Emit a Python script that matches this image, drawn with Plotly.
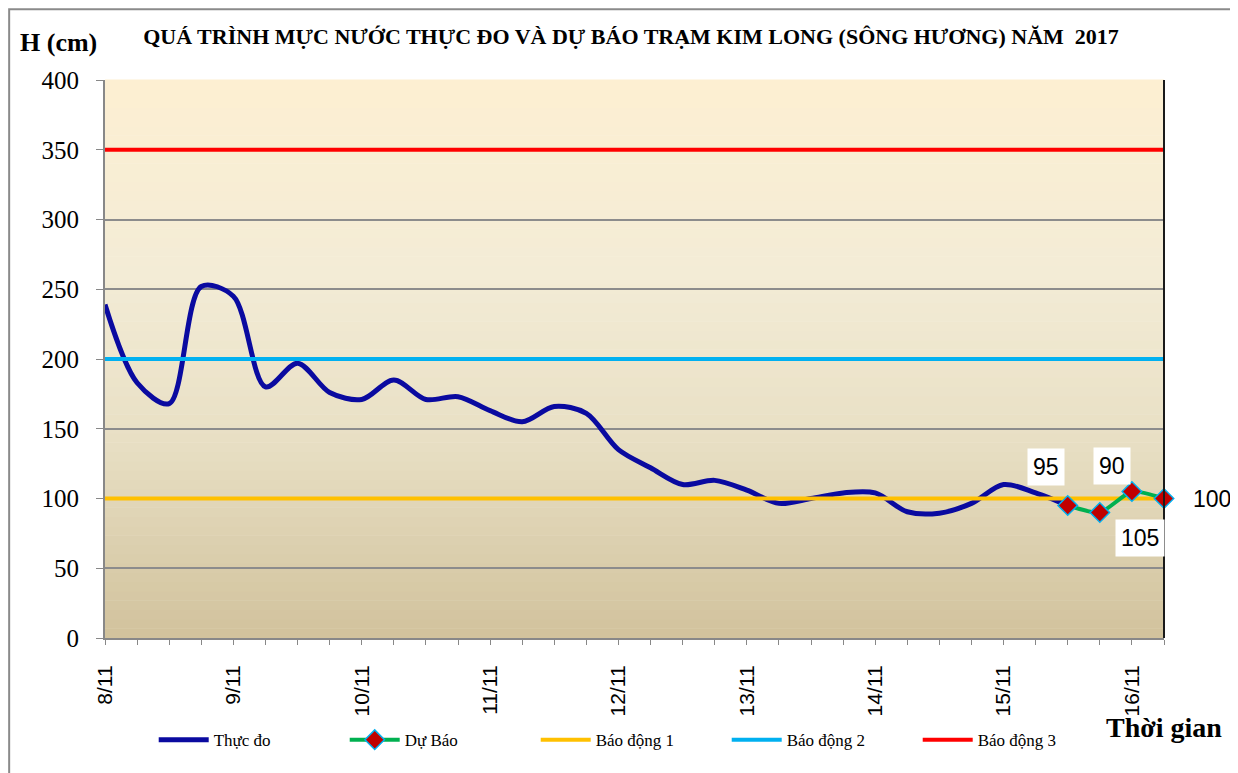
import plotly.graph_objects as go

# ---------------- data ----------------
day_labels = ["8/11", "9/11", "10/11", "11/11", "12/11", "13/11", "14/11", "15/11", "16/11"]
steps_per_day = 4  # observations every 6 hours

observed = [239, 183, 168, 252, 245, 180, 197, 176, 171, 185,
            171, 173, 163, 155, 166, 161, 135, 122, 110, 113,
            106, 96.5, 100, 104, 104, 90.5, 89.5, 96.5, 110, 104, 95]
forecast = [95, 90, 105, 100]
forecast_labels = ["95", "90", "105", "100"]

alarm_levels = [100, 200, 350]
alarm_names = ["Báo động 1", "Báo động 2", "Báo động 3"]
alarm_colors = ["#FFC000", "#00B0F0", "#FF0000"]

title_text = "QUÁ TRÌNH MỰC NƯỚC THỰC ĐO VÀ DỰ BÁO TRẠM KIM LONG (SÔNG HƯƠNG) NĂM  2017"

# ---------------- positions derived from data ----------------
n_total = len(observed) - 1 + len(forecast)
x_obs = list(range(len(observed)))
x_fc = list(range(len(observed) - 1, n_total))
x_end = n_total - 1

tickvals = list(range(n_total))
ticktext = [day_labels[i // steps_per_day] if i % steps_per_day == 0 and i // steps_per_day < len(day_labels) else ""
            for i in tickvals]

serif = "Liberation Serif, 'Times New Roman', serif"
sans = "Liberation Sans, Arial, sans-serif"

fig = go.Figure()

fig.add_trace(go.Scatter(
    x=x_obs, y=observed, mode="lines", name="Thực đo",
    line=dict(color="#0A0AA0", width=5, shape="spline", smoothing=0.9),
    legendrank=1))

for lvl, nm, col, rk in zip(alarm_levels, alarm_names, alarm_colors, [3, 4, 5]):
    fig.add_trace(go.Scatter(
        x=[0, x_end], y=[lvl, lvl], mode="lines", name=nm,
        line=dict(color=col, width=4), legendrank=rk))

fig.add_trace(go.Scatter(
    x=x_fc, y=forecast, mode="lines+markers", name="Dự Báo",
    line=dict(color="#00B050", width=4, shape="spline", smoothing=0.6),
    marker=dict(symbol="diamond", size=15, color="#C00000",
                line=dict(color="#00B0F0", width=1.5)),
    cliponaxis=False, legendrank=2))

# data labels (placed as in the reference)
label_shifts = [(-22, 38), (12, 46), (8, -46), (48, 0)]
for xv, yv, txt, (dx, dy) in zip(x_fc, forecast, forecast_labels, label_shifts):
    fig.add_annotation(x=xv, y=yv, text=txt, showarrow=False, xshift=dx, yshift=dy,
                       xanchor="center", yanchor="middle",
                       font=dict(family=sans, size=23, color="black"),
                       bgcolor="white", borderpad=5)

# background gradient bands
shapes = []
n_bands = 60
stops = [(0.0, (209, 194, 156)), (0.35, (232, 223, 196)), (0.65, (243, 236, 214)), (1.0, (253, 239, 210))]

def interp(t):
    for (t0, c0), (t1, c1) in zip(stops[:-1], stops[1:]):
        if t0 <= t <= t1:
            f = (t - t0) / (t1 - t0)
            return "rgb(%d,%d,%d)" % tuple(round(a + (b - a) * f) for a, b in zip(c0, c1))
    return "rgb(%d,%d,%d)" % stops[-1][1]

for k in range(n_bands):
    y0 = k / n_bands
    y1 = (k + 1) / n_bands
    shapes.append(dict(type="rect", xref="x domain", yref="y domain", x0=0, x1=1, y0=y0, y1=y1 + 0.001,
                       fillcolor=interp((y0 + y1) / 2), line=dict(width=0), layer="below"))

# right border of plot area
shapes.append(dict(type="line", xref="x domain", yref="y domain", x0=1, x1=1, y0=0, y1=1,
                   line=dict(color="#1a1a1a", width=2), layer="above"))
# outer chart border
shapes.append(dict(type="rect", xref="paper", yref="paper", x0=-0.0905, x1=1.069, y0=-0.26, y1=1.127,
                   line=dict(color="#8a8a8a", width=2), fillcolor="rgba(0,0,0,0)", layer="above"))

fig.update_layout(
    width=1230, height=765,
    margin=dict(l=97, r=74, t=72, b=135),
    paper_bgcolor="white", plot_bgcolor="rgba(0,0,0,0)",
    shapes=shapes,
    title=dict(text="<b>" + title_text + "</b>", x=0.5065, xanchor="center", y=0.963, yanchor="middle",
               font=dict(family=serif, size=22, color="black")),
    showlegend=True,
    legend=dict(orientation="h", x=0.046, xanchor="left", y=-0.183, yanchor="middle",
                font=dict(family=serif, size=17, color="black"),
                itemwidth=50, entrywidth=126, traceorder="normal", bgcolor="rgba(0,0,0,0)"),
    xaxis=dict(range=[0, x_end], tickmode="array", tickvals=tickvals, ticktext=ticktext,
               tickangle=-90, ticks="outside", ticklen=5, tickcolor="#888", ticklabelstandoff=12,
               showgrid=False, zeroline=False, showline=True, linecolor="#888", linewidth=2,
               tickfont=dict(family=sans, size=21, color="black")),
    yaxis=dict(range=[0, 400], dtick=50, ticks="outside", ticklen=7, tickcolor="#888", ticklabelstandoff=12,
               showgrid=True, gridcolor="#8c8c8c", gridwidth=1.5, zeroline=False,
               showline=True, linecolor="#888", linewidth=2,
               tickfont=dict(family=serif, size=25, color="black")),
)

fig.add_annotation(x=-0.044, y=1.068, xref="paper", yref="paper", text="<b>H (cm)</b>", showarrow=False,
                   xanchor="center", yanchor="middle",
                   font=dict(family=serif, size=26, color="black"))
fig.add_annotation(x=1.0, y=-0.161, xref="paper", yref="paper", text="<b>Thời gian</b>", showarrow=False,
                   xanchor="center", yanchor="middle",
                   font=dict(family=serif, size=28, color="black"))

fig.write_html("out.html")
